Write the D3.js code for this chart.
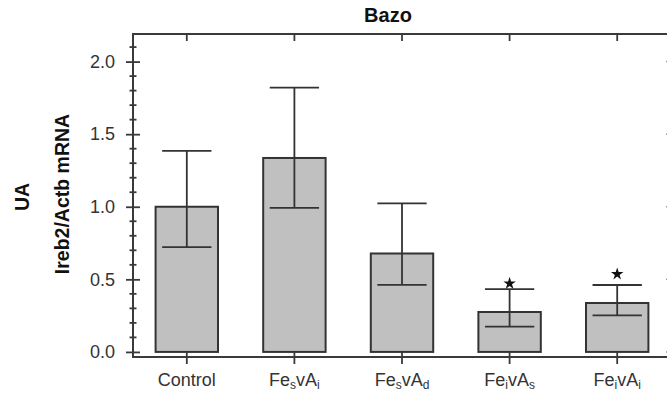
<!DOCTYPE html>
<html>
<head>
<meta charset="utf-8">
<script src="https://cdn.jsdelivr.net/npm/d3@7"></script>
<style>
  html, body { margin: 0; padding: 0; background: #fff; }
  svg { display: block; font-family: "Liberation Sans", Arial, sans-serif; }
</style>
</head>
<body>
<div id="chart"></div>
<script>
// categories, {x} marks a subscript
const categories = ["Control", "Fe{s}vA{i}", "Fe{s}vA{d}", "Fe{i}vA{s}", "Fe{i}vA{i}"];
const means = [1.0, 1.336, 0.678, 0.275, 0.337];
const errUpper = [1.385, 1.82, 1.023, 0.433, 0.461];
const errLower = [0.722, 0.992, 0.462, 0.174, 0.252];
const starAt = [null, null, null, 0.472, 0.536];
const yTicks = [0.0, 0.5, 1.0, 1.5, 2.0];
const yMinorTicks = d3.range(0, 22).map(i => i / 10).filter(v => Math.round(v * 10) % 5 !== 0);

const width = 667, height = 393;
const plotLeft = 133, plotRight = 671, plotTop = 34, plotBottom = 357;

const svg = d3.select('#chart').append('svg')
  .attr('width', width)
  .attr('height', height);

const x = d3.scaleBand()
  .domain(categories)
  .range([plotLeft, plotRight])
  .paddingInner(0.42)
  .paddingOuter(0.21);

const y = d3.scaleLinear()
  .domain([-0.035, 2.19])
  .range([plotBottom, plotTop]);

const axisColor = '#3a3a3a';
const cx = c => x(c) + x.bandwidth() / 2;

// frame
svg.append('rect')
  .attr('x', plotLeft).attr('y', plotTop)
  .attr('width', plotRight - plotLeft).attr('height', plotBottom - plotTop)
  .attr('fill', 'none')
  .attr('stroke', axisColor)
  .attr('stroke-width', 2);

// bars
svg.selectAll('rect.bar')
  .data(means)
  .enter()
  .append('rect')
  .attr('class', 'bar')
  .attr('x', (d, i) => x(categories[i]))
  .attr('y', d => y(d))
  .attr('width', x.bandwidth())
  .attr('height', d => y(0) - y(d))
  .attr('fill', '#c0c0c0')
  .attr('stroke', '#333')
  .attr('stroke-width', 2);

// error bars
const capW = x.bandwidth() * 0.79;
const eb = svg.selectAll('g.err')
  .data(means)
  .enter()
  .append('g')
  .attr('class', 'err')
  .attr('stroke', '#333')
  .attr('stroke-width', 1.8);

eb.append('line')
  .attr('x1', (d, i) => cx(categories[i]))
  .attr('x2', (d, i) => cx(categories[i]))
  .attr('y1', (d, i) => y(errUpper[i]))
  .attr('y2', (d, i) => y(errLower[i]));

eb.append('line')
  .attr('x1', (d, i) => cx(categories[i]) - capW / 2)
  .attr('x2', (d, i) => cx(categories[i]) + capW / 2)
  .attr('y1', (d, i) => y(errUpper[i]))
  .attr('y2', (d, i) => y(errUpper[i]));

eb.append('line')
  .attr('x1', (d, i) => cx(categories[i]) - capW / 2)
  .attr('x2', (d, i) => cx(categories[i]) + capW / 2)
  .attr('y1', (d, i) => y(errLower[i]))
  .attr('y2', (d, i) => y(errLower[i]));

// significance stars
svg.selectAll('path.star')
  .data(starAt.map((v, i) => ({ v, c: categories[i] })).filter(d => d.v !== null))
  .enter()
  .append('path')
  .attr('class', 'star')
  .attr('d', d3.symbol().type(d3.symbolStar).size(48))
  .attr('transform', d => `translate(${cx(d.c)},${y(d.v)})`)
  .attr('fill', '#111');

// left axis
const leftAxis = svg.append('g')
  .attr('transform', `translate(${plotLeft},0)`)
  .call(d3.axisLeft(y).tickValues(yTicks).tickFormat(d3.format('.1f')).tickSize(7).tickPadding(11));
leftAxis.select('.domain').remove();
leftAxis.selectAll('.tick line').attr('x2', 7).attr('x1', -7).attr('stroke', axisColor).attr('stroke-width', 1.8);
leftAxis.selectAll('.tick text')
  .attr('font-size', 18)
  .attr('fill', '#333')
  .attr('font-family', '"Liberation Sans", Arial, sans-serif');

svg.append('g').selectAll('line')
  .data(yMinorTicks)
  .enter()
  .append('line')
  .attr('x1', plotLeft - 3.5).attr('x2', plotLeft + 3.5)
  .attr('y1', d => y(d)).attr('y2', d => y(d))
  .attr('stroke', axisColor).attr('stroke-width', 1.8);

// right axis (ticks inside)
svg.append('g').selectAll('line')
  .data(yTicks)
  .enter()
  .append('line')
  .attr('x1', plotRight - 5).attr('x2', plotRight)
  .attr('y1', d => y(d)).attr('y2', d => y(d))
  .attr('stroke', '#999').attr('stroke-width', 1.5);

// top axis ticks (inside)
svg.append('g').selectAll('line')
  .data(categories)
  .enter()
  .append('line')
  .attr('x1', d => cx(d)).attr('x2', d => cx(d))
  .attr('y1', plotTop).attr('y2', plotTop + 7)
  .attr('stroke', axisColor).attr('stroke-width', 1.8);

// bottom axis
const bottomAxis = svg.append('g')
  .attr('transform', `translate(0,${plotBottom})`)
  .call(d3.axisBottom(x).tickSize(7).tickPadding(14).tickFormat(''));
bottomAxis.select('.domain').remove();
bottomAxis.selectAll('.tick line').attr('y1', -5).attr('stroke', axisColor).attr('stroke-width', 1.8);

bottomAxis.selectAll('.tick')
  .append('text')
  .attr('y', 29)
  .attr('text-anchor', 'middle')
  .attr('font-size', 18)
  .attr('fill', '#333')
  .attr('font-family', '"Liberation Sans", Arial, sans-serif')
  .each(function (d) {
    const t = d3.select(this);
    d.split(/(\{[^}]*\})/).filter(s => s.length).forEach(part => {
      if (part.startsWith('{')) {
        t.append('tspan').text(part.slice(1, -1))
          .attr('font-size', 12).attr('dy', 3);
      } else {
        const ts = t.append('tspan').text(part);
        if (t.selectAll('tspan').size() > 1) ts.attr('dy', -3);
      }
    });
  });

// title
svg.append('text')
  .attr('x', 388).attr('y', 22)
  .attr('text-anchor', 'middle')
  .attr('font-size', 20)
  .attr('font-weight', 'bold')
  .attr('fill', '#111')
  .text('Bazo');

// y titles
svg.append('text')
  .attr('transform', 'translate(29,197) rotate(-90)')
  .attr('text-anchor', 'middle')
  .attr('font-size', 19.5)
  .attr('font-weight', 'bold')
  .attr('fill', '#111')
  .text('UA');

svg.append('text')
  .attr('transform', 'translate(69,194) rotate(-90)')
  .attr('text-anchor', 'middle')
  .attr('font-size', 19.5)
  .attr('font-weight', 'bold')
  .attr('fill', '#111')
  .text('Ireb2/Actb mRNA');
</script>
</body>
</html>
